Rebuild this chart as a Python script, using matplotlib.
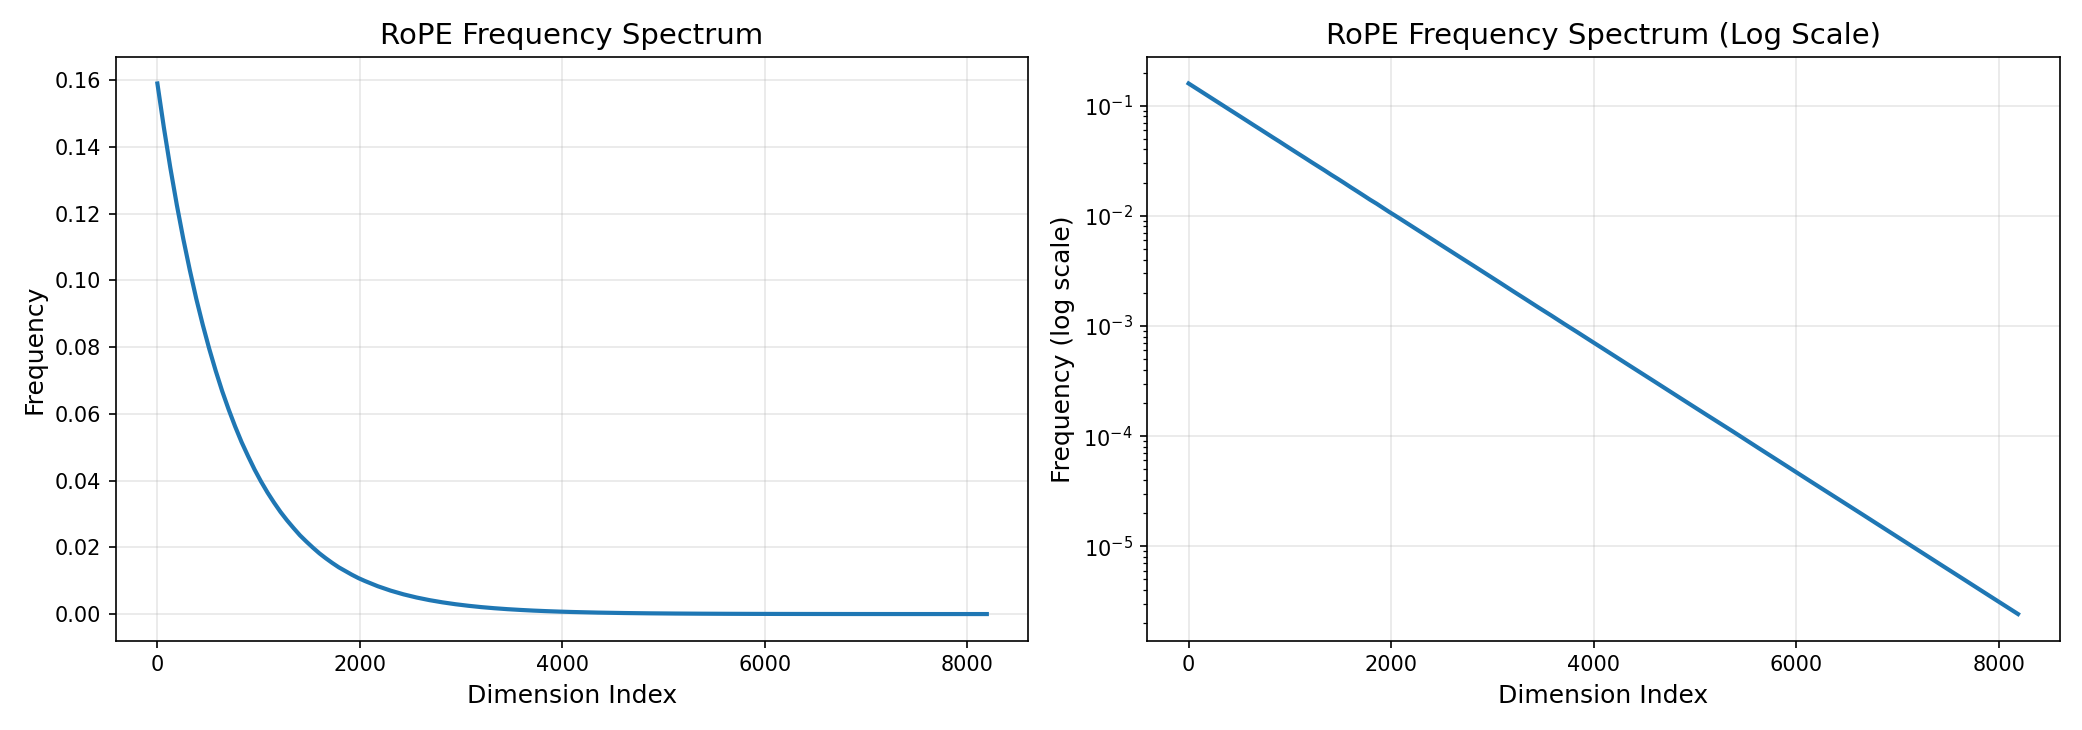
import matplotlib
matplotlib.use('Agg')
import matplotlib.pyplot as plt

# dimension index and frequency values
# (denser sampling where the linear curve bends)
dim_index = ([i * 64 for i in range(33)]
             + [2048 + i * 128 for i in range(1, 17)]
             + [4096 + i * 256 for i in range(1, 17)])
frequency = [0.159, 0.1458, 0.1337, 0.1226, 0.1124, 0.1031, 0.0945, 0.0867,
             0.0795, 0.0729, 0.0668, 0.0613, 0.0562, 0.0515, 0.0473, 0.0433,
             0.0397, 0.0364, 0.0334, 0.0306, 0.0281, 0.0258, 0.0236, 0.0217,
             0.0199, 0.0182, 0.0167, 0.0153, 0.0140, 0.0129, 0.0118, 0.0108,
             0.00993,
             0.00835, 0.00702, 0.00590, 0.00496, 0.00417, 0.00351, 0.00295,
             0.00248, 0.00208, 0.00175, 0.00147, 0.00124, 0.00104, 0.000877,
             0.000737, 0.000620,
             0.000438, 0.000310, 0.000219, 0.000155, 0.000110, 7.75e-5,
             5.48e-5, 3.87e-5, 2.74e-5, 1.94e-5, 1.37e-5, 9.68e-6, 6.84e-6,
             4.84e-6, 3.42e-6, 2.42e-6]

fig, (ax1, ax2) = plt.subplots(1, 2, figsize=(13.88, 4.867), dpi=150)

ax1.plot(dim_index, frequency, color='#1f77b4', linewidth=2)
ax1.set_title('RoPE Frequency Spectrum', fontsize=14)
ax1.set_xlabel('Dimension Index', fontsize=12)
ax1.set_ylabel('Frequency', fontsize=12)
ax1.grid(True, alpha=0.3)

ax2.semilogy(dim_index, frequency, color='#1f77b4', linewidth=2)
ax2.set_title('RoPE Frequency Spectrum (Log Scale)', fontsize=14)
ax2.set_xlabel('Dimension Index', fontsize=12)
ax2.set_ylabel('Frequency (log scale)', fontsize=12)
ax2.grid(True, alpha=0.3)

plt.tight_layout()
plt.savefig('out.png', dpi=150)
plt.close(fig)
